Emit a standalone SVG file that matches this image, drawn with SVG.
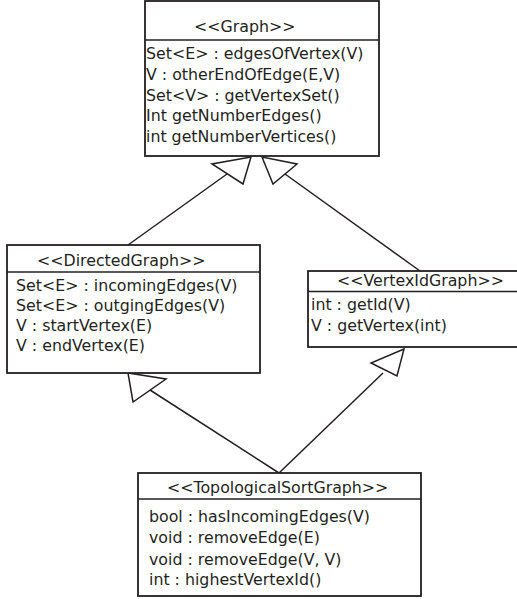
<svg xmlns="http://www.w3.org/2000/svg" width="517" height="599" viewBox="0 0 517 599">
<style>
.box{fill:#fff;stroke:#231f20;stroke-width:1.8}
.div{stroke:#231f20;stroke-width:1.5}
.t{font-family:"DejaVu Sans",sans-serif;font-size:15.8px;fill:#231f20}
.ln{stroke:#231f20;stroke-width:1.5;fill:none}
.ah{fill:#fff;stroke:#231f20;stroke-width:1.5;stroke-linejoin:miter}
</style>
<rect width="517" height="599" fill="#fff"/>
<g id="connectors">
<line class="ln" x1="128" y1="245" x2="227" y2="174"/>
<polygon class="ah" points="251,157 212,164 243,184"/>
<line class="ln" x1="420" y1="271" x2="285" y2="174"/>
<polygon class="ah" points="262,157 273,184 297,164"/>
<line class="ln" x1="279" y1="473" x2="150" y2="390"/>
<polygon class="ah" points="128,373 133,402 166,379"/>
<line class="ln" x1="279" y1="473" x2="383" y2="373"/>
<polygon class="ah" points="404,349 371,363 397,376"/>
</g>
<g id="graph">
<rect class="box" x="145" y="1" width="234" height="155"/>
<line class="div" x1="145" y1="40" x2="379" y2="40"/>
<text class="t" x="194" y="32">&lt;&lt;Graph&gt;&gt;</text>
<text class="t" x="146" y="59">Set&lt;E&gt; : edgesOfVertex(V)</text>
<text class="t" x="146" y="80">V : otherEndOfEdge(E,V)</text>
<text class="t" x="146" y="101">Set&lt;V&gt; : getVertexSet()</text>
<text class="t" x="146" y="121">Int getNumberEdges()</text>
<text class="t" x="146" y="142">int getNumberVertices()</text>
</g>
<g id="directedGraph">
<rect class="box" x="7" y="245" width="253" height="128"/>
<line class="div" x1="7" y1="272" x2="260" y2="272"/>
<text class="t" x="37" y="266">&lt;&lt;DirectedGraph&gt;&gt;</text>
<text class="t" x="16" y="291">Set&lt;E&gt; : incomingEdges(V)</text>
<text class="t" x="16" y="311">Set&lt;E&gt; : outgingEdges(V)</text>
<text class="t" x="16" y="331">V : startVertex(E)</text>
<text class="t" x="16" y="351">V : endVertex(E)</text>
</g>
<g id="vertexIdGraph">
<rect class="box" x="308" y="271" width="220" height="76"/>
<line class="div" x1="308" y1="291.5" x2="528" y2="291.5"/>
<text class="t" x="337" y="286">&lt;&lt;VertexIdGraph&gt;&gt;</text>
<text class="t" x="311" y="310">int : getId(V)</text>
<text class="t" x="311" y="331">V : getVertex(int)</text>
</g>
<g id="topologicalSortGraph">
<rect class="box" x="138" y="473" width="283" height="123"/>
<line class="div" x1="138" y1="499" x2="421" y2="499"/>
<text class="t" x="167" y="493">&lt;&lt;TopologicalSortGraph&gt;&gt;</text>
<text class="t" x="149" y="522">bool : hasIncomingEdges(V)</text>
<text class="t" x="149" y="543">void : removeEdge(E)</text>
<text class="t" x="149" y="565">void : removeEdge(V, V)</text>
<text class="t" x="149" y="585">int : highestVertexId()</text>
</g>
</svg>
